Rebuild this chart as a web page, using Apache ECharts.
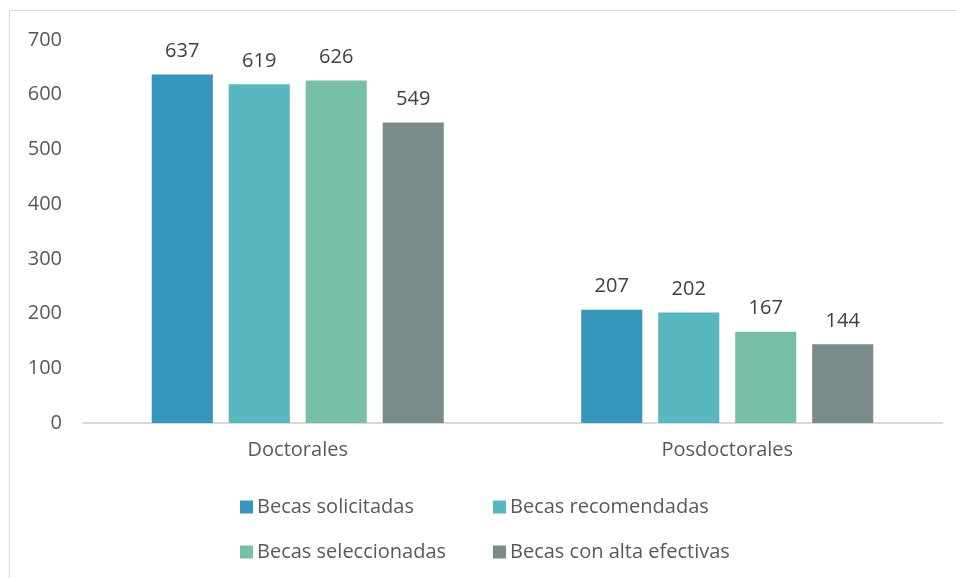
<!DOCTYPE html>
<html>
<head>
<meta charset="utf-8">
<script src="https://cdn.jsdelivr.net/npm/echarts@6/dist/echarts.min.js"></script>
<style>
    html, body { margin: 0; padding: 0; background: #fff; }
    #chart { width: 956px; height: 578px; }
</style>
</head>
<body>
<div id="chart"></div>
<script>
var categories = ['Doctorales', 'Posdoctorales'];
var seriesNames = ['Becas solicitadas', 'Becas recomendadas', 'Becas seleccionadas', 'Becas con alta efectivas'];
var solicitadas = [637, 207];
var recomendadas = [619, 202];
var seleccionadas = [626, 167];
var altaEfectivas = [549, 144];
var yTicks = [0, 100, 200, 300, 400, 500, 600, 700];

var colors = ['#3595bb', '#59b7bf', '#76bfa5', '#7a8b8b'];
var font = 'Open Sans';
var fs = 20;

var chart = echarts.init(document.getElementById('chart'));

function genSeries(name, data, color) {
    return {
        name: name,
        type: 'bar',
        data: data,
        barGap: '26%',
        barCategoryGap: '32%',
        itemStyle: { color: color },
        label: {
            show: true,
            position: 'top',
            distance: 13,
            color: '#404040',
            fontSize: fs,
            fontFamily: font
        }
    };
}

function genLegend(name, left, top) {
    return {
        data: [name],
        left: left,
        top: top,
        icon: 'rect',
        itemWidth: 13,
        itemHeight: 13,
        itemGap: 6,
        textStyle: { color: '#595959', fontSize: fs, fontFamily: font, padding: [0, 0, 0, -1] }
    };
}

chart.setOption({
    animation: false,
    color: colors,
    graphic: [{
        type: 'rect',
        shape: { x: 9.5, y: 10.5, width: 1000, height: 1000 },
        style: { fill: 'none', stroke: '#d9d9d9', lineWidth: 1 },
        silent: true
    }],
    grid: { left: 83, right: 14, top: 40, bottom: 155, containLabel: false },
    legend: [
        genLegend(seriesNames[0], 235, 492),
        genLegend(seriesNames[1], 488, 492),
        genLegend(seriesNames[2], 235, 537),
        genLegend(seriesNames[3], 488, 537)
    ],
    xAxis: {
        type: 'category',
        data: categories,
        axisLine: { lineStyle: { color: '#d9d9d9', width: 2 } },
        axisTick: { show: false },
        axisLabel: { color: '#595959', fontSize: fs, fontFamily: font, margin: 17 }
    },
    yAxis: {
        type: 'value',
        min: yTicks[0],
        max: yTicks[yTicks.length - 1],
        interval: 100,
        splitLine: { show: false },
        axisLine: { show: false },
        axisTick: { show: false },
        axisLabel: { color: '#595959', fontSize: fs, fontFamily: font, margin: 21 }
    },
    series: [
        genSeries(seriesNames[0], solicitadas, colors[0]),
        genSeries(seriesNames[1], recomendadas, colors[1]),
        genSeries(seriesNames[2], seleccionadas, colors[2]),
        genSeries(seriesNames[3], altaEfectivas, colors[3])
    ]
});
</script>
</body>
</html>
